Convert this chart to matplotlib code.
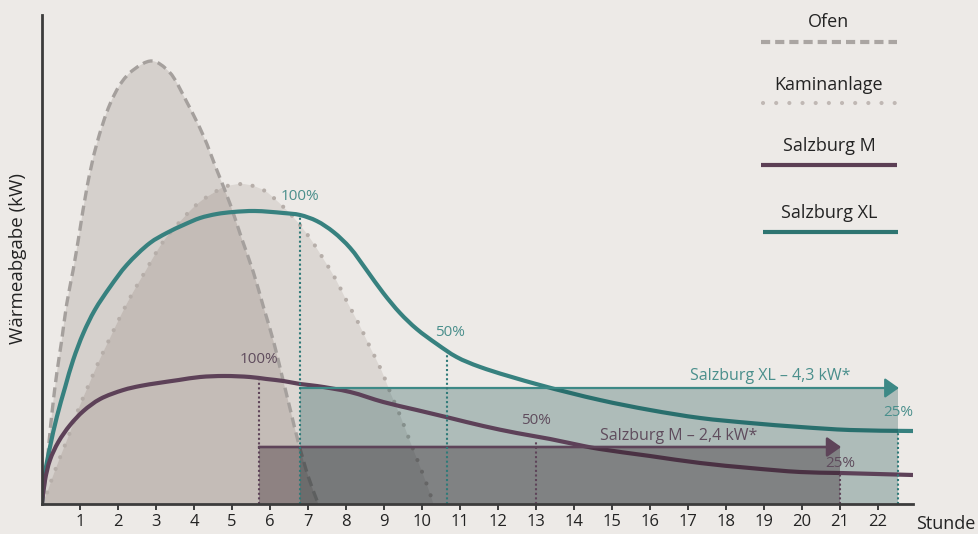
import numpy as np
import matplotlib
matplotlib.use("Agg")
import matplotlib.pyplot as plt
from matplotlib.path import Path
from matplotlib.patches import PathPatch
from matplotlib.lines import Line2D

plt.rcParams['font.family'] = ['Open Sans', 'DejaVu Sans']

# ---------------- data (hours, relative heat output) ----------------
hours_ticks = list(range(1, 23))

ofen_x = [0, 0.11, 0.19, 0.28, 0.39, 0.52, 0.65, 0.82, 0.98, 1.19, 1.44, 1.79, 2.10, 2.40, 2.89,
          3.35, 3.81, 4.25, 4.60, 4.95, 5.25, 5.56, 5.82, 6.09, 6.31, 6.53, 6.75, 7.01, 7.27]
ofen_y = [0, 31, 64, 97, 131, 164, 200, 234, 270, 318, 360, 400, 422, 434, 443,
          432, 402, 368, 334, 300, 266, 232, 198, 163, 129, 95, 61, 27, 0]

kamin_x = [0, 0.14, 0.25, 0.49, 0.74, 0.97, 1.24, 1.50, 1.79, 2.08, 2.40, 2.74, 3.06, 3.32,
           3.72, 3.97, 4.22, 4.51, 4.79, 5.25, 5.56, 5.87, 6.13, 6.61, 7.03, 7.39, 7.74,
           8.03, 8.34, 8.63, 8.94, 9.18, 9.44, 9.68, 9.92, 10.16, 10.30]
kamin_y = [0, 12, 24, 48, 72, 96, 120, 143, 166, 189, 212, 234, 255, 269,
           286, 296, 304, 311, 317, 320, 318, 313, 305, 287, 267, 246, 224,
           202, 180, 157, 133, 110, 87, 63, 40, 16, 0]

xl_x = [0, 0.08, 0.21, 0.39, 0.61, 0.82, 1.09, 1.39, 1.79, 2.23, 2.84, 3.28, 3.72, 4.16, 4.60,
        5.03, 5.6, 6.35, 6.79, 7.23, 7.67, 8.11, 8.54, 8.98, 9.42, 9.86, 10.39, 10.91,
        11.53, 13.1, 14.68, 16.0, 17.32, 18.63, 19.95, 21.26, 22.92]
xl_y = [0, 31, 57, 87, 117, 144, 171, 194, 217, 239, 261, 271, 279, 286, 290,
        292, 293, 291, 289, 283, 272, 256, 234, 211, 191, 175, 160, 147,
        137, 119, 104, 94, 86, 81, 77, 74, 73]

m_x = [0, 0.08, 0.21, 0.43, 0.74, 1.09, 1.53, 2.14, 2.58, 3.06, 3.6, 4.16, 4.8,
       5.47, 5.91, 6.35, 6.79, 7.23, 8.11, 8.98, 9.86, 10.74, 11.61, 12.49, 13.37, 14.25, 14.68,
       16.0, 17.32, 18.63, 19.95, 21.0, 22.92]
m_y = [0, 24, 44, 62, 79, 93, 105, 114, 118, 121, 124, 127, 128,
       127, 125, 123, 120, 118, 112, 102, 94, 86, 78, 71, 65, 58, 55,
       48, 41, 36, 32, 31, 29]

# burn duration ranges (start, end) and level of the bars
xl_range = (6.79, 22.52)
xl_level = 116
m_range = (5.71, 21.0)
m_level = 57

# percentage markers
xl_mark_x = [6.79, 10.66, 22.52]
xl_mark_y = [289, 151, 73]
m_mark_x = [5.71, 13.0, 21.0]
m_mark_y = [126, 64, 31]
mark_labels = ['100%', '50%', '25%']

xl_text = 'Salzburg XL – 4,3 kW*'
m_text = 'Salzburg M – 2,4 kW*'
legend_labels = ['Ofen', 'Kaminanlage', 'Salzburg M', 'Salzburg XL']

# ---------------- style ----------------
BG = '#edeae7'
OFEN_FILL = '#d5d0cc'
KAMIN_FILL = '#dcd7d3'
OVERLAP_FILL = '#c4bcb7'
DASH_C = '#a5a09d'
DOT_C = '#b6aea9'
TEAL = '#37817f'
TEAL_TXT = '#4a8f8c'
PURPLE = '#5d4158'
PURPLE_TXT = '#5f4c5d'
AXIS_C = '#3c3c3c'
TXT = '#232323'

W, H = 979, 534
XSCALE = 38.0  # pixels per hour, only used to parameterise the spline


def smooth_path(xs, ys, close=False):
    """Centripetal Catmull-Rom through the read points, drawn as cubic Beziers."""
    P = np.column_stack([np.asarray(xs, float), np.asarray(ys, float)])
    S = P * np.array([XSCALE, 1.0])
    n = len(P)
    dist = np.linalg.norm(np.diff(S, axis=0), axis=1)
    t = np.concatenate([[0], np.cumsum(np.sqrt(np.maximum(dist, 1e-6)))])
    M = np.zeros_like(P)
    for i in range(n):
        if i == 0:
            M[i] = (P[1] - P[0]) / (t[1] - t[0])
        elif i == n - 1:
            M[i] = (P[-1] - P[-2]) / (t[-1] - t[-2])
        else:
            a = (P[i] - P[i - 1]) / (t[i] - t[i - 1])
            b = (P[i + 1] - P[i]) / (t[i + 1] - t[i])
            c = (P[i + 1] - P[i - 1]) / (t[i + 1] - t[i - 1])
            M[i] = a + b - c
    verts = [P[0]]
    codes = [Path.MOVETO]
    for i in range(n - 1):
        dt = t[i + 1] - t[i]
        verts += [P[i] + M[i] * dt / 3, P[i + 1] - M[i + 1] * dt / 3, P[i + 1]]
        codes += [Path.CURVE4] * 3
    if close:
        verts.append(P[0])
        codes.append(Path.CLOSEPOLY)
    return Path(np.array(verts), codes)


fig = plt.figure(figsize=(W / 100, H / 100), dpi=100, facecolor=BG)
ax = fig.add_axes([42 / W, 30 / H, 871 / W, 489 / H])
ax.set_facecolor(BG)
ax.set_xlim(0, 22.92)
ax.set_ylim(0, 489)

# fills
ofen_fill = smooth_path(ofen_x, ofen_y, close=True)
kamin_fill = smooth_path(kamin_x, kamin_y, close=True)
ax.add_patch(PathPatch(ofen_fill, fc=OFEN_FILL, ec='none', zorder=1))
ax.add_patch(PathPatch(kamin_fill, fc=KAMIN_FILL, ec='none', zorder=1.1))
ov = PathPatch(kamin_fill, fc=OVERLAP_FILL, ec='none', zorder=1.2)
ax.add_patch(ov)
ov.set_clip_path(ofen_fill, ax.transData)

# outlines
ax.add_patch(PathPatch(smooth_path(ofen_x, ofen_y), fill=False, ec=DASH_C, lw=2.4,
                       linestyle=(0, (3.0, 1.6)), capstyle='butt', zorder=2))
ax.add_patch(PathPatch(smooth_path(kamin_x, kamin_y), fill=False, ec=DOT_C, lw=3.0,
                       linestyle=(0, (0.01, 3.0)), capstyle='round', zorder=2.1))

# Salzburg XL curve (below the bars)
ax.add_patch(PathPatch(smooth_path(xl_x, xl_y), fill=False, ec=TEAL, lw=3.0,
                       capstyle='butt', zorder=3))

# bars
ax.fill_between(list(xl_range), 0, xl_level, color=(4 / 255, 64 / 255, 64 / 255),
                alpha=0.27, lw=0, zorder=4)
ax.add_patch(PathPatch(smooth_path(m_x, m_y), fill=False, ec=PURPLE, lw=3.0,
                       capstyle='butt', zorder=4.5))
ax.fill_between(list(m_range), 0, m_level, color=(40 / 255, 20 / 255, 28 / 255),
                alpha=0.34, lw=0, zorder=5)

# arrows on top of the bars
for (x0, x1), lvl, col, lw in [(xl_range, xl_level, '#3d8986', 1.6),
                               (m_range, m_level, '#5e4459', 1.9)]:
    ax.annotate('', xy=(x1 + 0.03, lvl), xytext=(x0, lvl),
                arrowprops=dict(arrowstyle='-|>,head_length=0.85,head_width=0.6',
                                mutation_scale=10, lw=lw, color=col,
                                shrinkA=0, shrinkB=0),
                zorder=6)

# percentage markers
ax.vlines(xl_mark_x, 0, xl_mark_y, colors='#2f7a78', lw=1.5, linestyles=(0, (1, 1.2)), zorder=6)
ax.vlines(m_mark_x, 0, m_mark_y, colors='#5e4459', lw=1.5, linestyles=(0, (1, 1.2)), zorder=6)

xl_offsets = [(0, 13), (2, 15), (0, 13)]
m_offsets = [(0, 13), (0, 14), (0, 7)]
for x, y, lab, off in zip(xl_mark_x, xl_mark_y, mark_labels, xl_offsets):
    ax.annotate(lab, xy=(x, y), xytext=off, textcoords='offset points', ha='center',
                va='center', color=TEAL_TXT, fontsize=11, zorder=7)
for x, y, lab, off in zip(m_mark_x, m_mark_y, mark_labels, m_offsets):
    ax.annotate(lab, xy=(x, y), xytext=off, textcoords='offset points', ha='center',
                va='center', color=PURPLE_TXT, fontsize=11, zorder=7)

ax.annotate(xl_text, xy=(19.16, xl_level), xytext=(0, 9), textcoords='offset points',
            ha='center', va='center', color=TEAL_TXT, fontsize=11.5, zorder=7)
ax.annotate(m_text, xy=(16.76, m_level), xytext=(0, 8), textcoords='offset points',
            ha='center', va='center', color=PURPLE_TXT, fontsize=11.5, zorder=7)

# axes styling
for s in ['top', 'right']:
    ax.spines[s].set_visible(False)
for s in ['left', 'bottom']:
    ax.spines[s].set_color(AXIS_C)
    ax.spines[s].set_linewidth(2.0)
    ax.spines[s].set_zorder(8)
ax.set_yticks([])
ax.set_xticks(hours_ticks)
ax.set_xticklabels([str(h) for h in hours_ticks])
ax.tick_params(axis='x', direction='out', length=4.5, width=1.4, color=AXIS_C,
               labelsize=12, labelcolor=TXT, pad=2.5)

# axis labels
fig.text(18 / W, 1 - 258 / H, 'Wärmeabgabe (kW)', rotation=90, ha='center', va='center',
         fontsize=13.5, color=TXT)
fig.text(916 / W, 1 - 524 / H, 'Stunde', ha='left', va='center', fontsize=13, color=TXT)

# legend
def fx(x):
    return x / W


def fy(y):
    return 1 - y / H


leg_text_y = [22, 85, 146, 213]
leg_line_y = [42, 103, 165, 232]
leg_styles = [
    dict(color='#aaa5a2', lw=3.0, linestyle=(0, (2.2, 1.2)), solid_capstyle='butt', dash_capstyle='butt'),
    dict(color='#c0b8b4', lw=3.0, linestyle=(0, (0.01, 3.15)), dash_capstyle='round'),
    dict(color='#5c3f55', lw=3.0, solid_capstyle='butt'),
    dict(color='#2e7571', lw=3.0, solid_capstyle='butt'),
]
leg_x = [(760.7, 896.7), (763, 895.5), (760.7, 896.7), (762.7, 898.3)]
for lab, ty, ly, st, (lx0, lx1) in zip(legend_labels, leg_text_y, leg_line_y, leg_styles, leg_x):
    fig.text(fx(829), fy(ty), lab, ha='center', va='center', fontsize=13, color=TXT)
    fig.add_artist(Line2D([fx(lx0), fx(lx1)], [fy(ly), fy(ly)], transform=fig.transFigure, **st))

fig.savefig('out.png', dpi=100, facecolor=BG)
